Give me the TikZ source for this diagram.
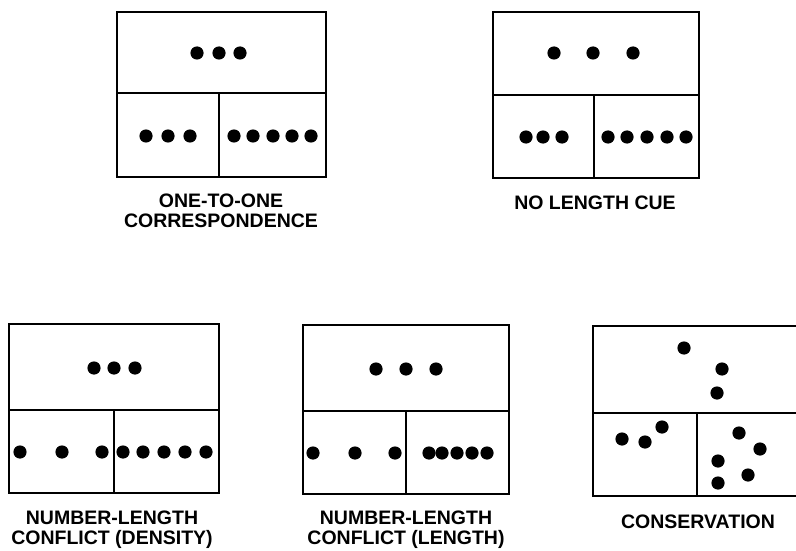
\documentclass[tikz,border=0pt]{standalone}
\usepackage{fontspec}
\setmainfont{Liberation Sans}
\begin{document}
\begin{tikzpicture}[x=1pt,y=-1pt,
  frame/.style={line width=1.8pt},
  caption/.style={font=\bfseries\fontsize{19.5}{20}\selectfont, align=center, inner sep=0pt}]
\useasboundingbox (0,0) rectangle (796,551);
\newcommand\dotat[2]{\fill (#1,#2) circle (6.6);}

% --- one-to-one correspondence
\draw[frame] (117,12) rectangle (326,177);
\draw[frame] (117,93) -- (326,93);
\draw[frame] (219,93) -- (219,177);
\foreach \x in {197,219,240} {\dotat{\x}{53}}
\foreach \x in {146,168,190} {\dotat{\x}{136}}
\foreach \x in {234,253,273,292,311} {\dotat{\x}{136}}
\node[caption] (capA) at (221,210.5) {ONE-TO-ONE\\CORRESPONDENCE};

% --- no length cue
\draw[frame] (493,12) rectangle (699,178);
\draw[frame] (493,95) -- (699,95);
\draw[frame] (594,95) -- (594,178);
\foreach \x in {554,593,633} {\dotat{\x}{53}}
\foreach \x in {526,543,562} {\dotat{\x}{137}}
\foreach \x in {608,627,647,667,686} {\dotat{\x}{137}}
\node[caption] (capB) at (595,203) {NO LENGTH CUE};

% --- number-length conflict (density)
\draw[frame] (9,324) rectangle (219,493);
\draw[frame] (9,410) -- (219,410);
\draw[frame] (114,410) -- (114,493);
\foreach \x in {94,114,135} {\dotat{\x}{368}}
\foreach \x in {20,62,102} {\dotat{\x}{452}}
\foreach \x in {123,143,164,185,206} {\dotat{\x}{452}}
\node[caption] (capC) at (112,530) {NUMBER-LENGTH\\CONFLICT (DENSITY)};

% --- number-length conflict (length)
\draw[frame] (303,325) rectangle (509,494);
\draw[frame] (303,411) -- (509,411);
\draw[frame] (406,411) -- (406,494);
\foreach \x in {376,406,436} {\dotat{\x}{369}}
\foreach \x in {313,355,395} {\dotat{\x}{453}}
\foreach \x in {429,442,457,472,487} {\dotat{\x}{453}}
\node[caption] (capD) at (406,530) {NUMBER-LENGTH\\CONFLICT (LENGTH)};

% --- conservation (runs off the right edge)
\begin{scope}
\clip (0,0) rectangle (796,551);
\draw[frame] (593,326) rectangle (820,496);
\draw[frame] (593,413) -- (820,413);
\draw[frame] (697,413) -- (697,496);
\end{scope}
\dotat{684}{348}\dotat{722}{369}\dotat{717}{393}
\dotat{622}{439}\dotat{645}{442}\dotat{662}{427}
\dotat{739}{433}\dotat{760}{449}\dotat{718}{461}\dotat{748}{475}\dotat{718}{483}
\node[caption] (capE) at (698,521.5) {CONSERVATION};
\end{tikzpicture}
\end{document}
